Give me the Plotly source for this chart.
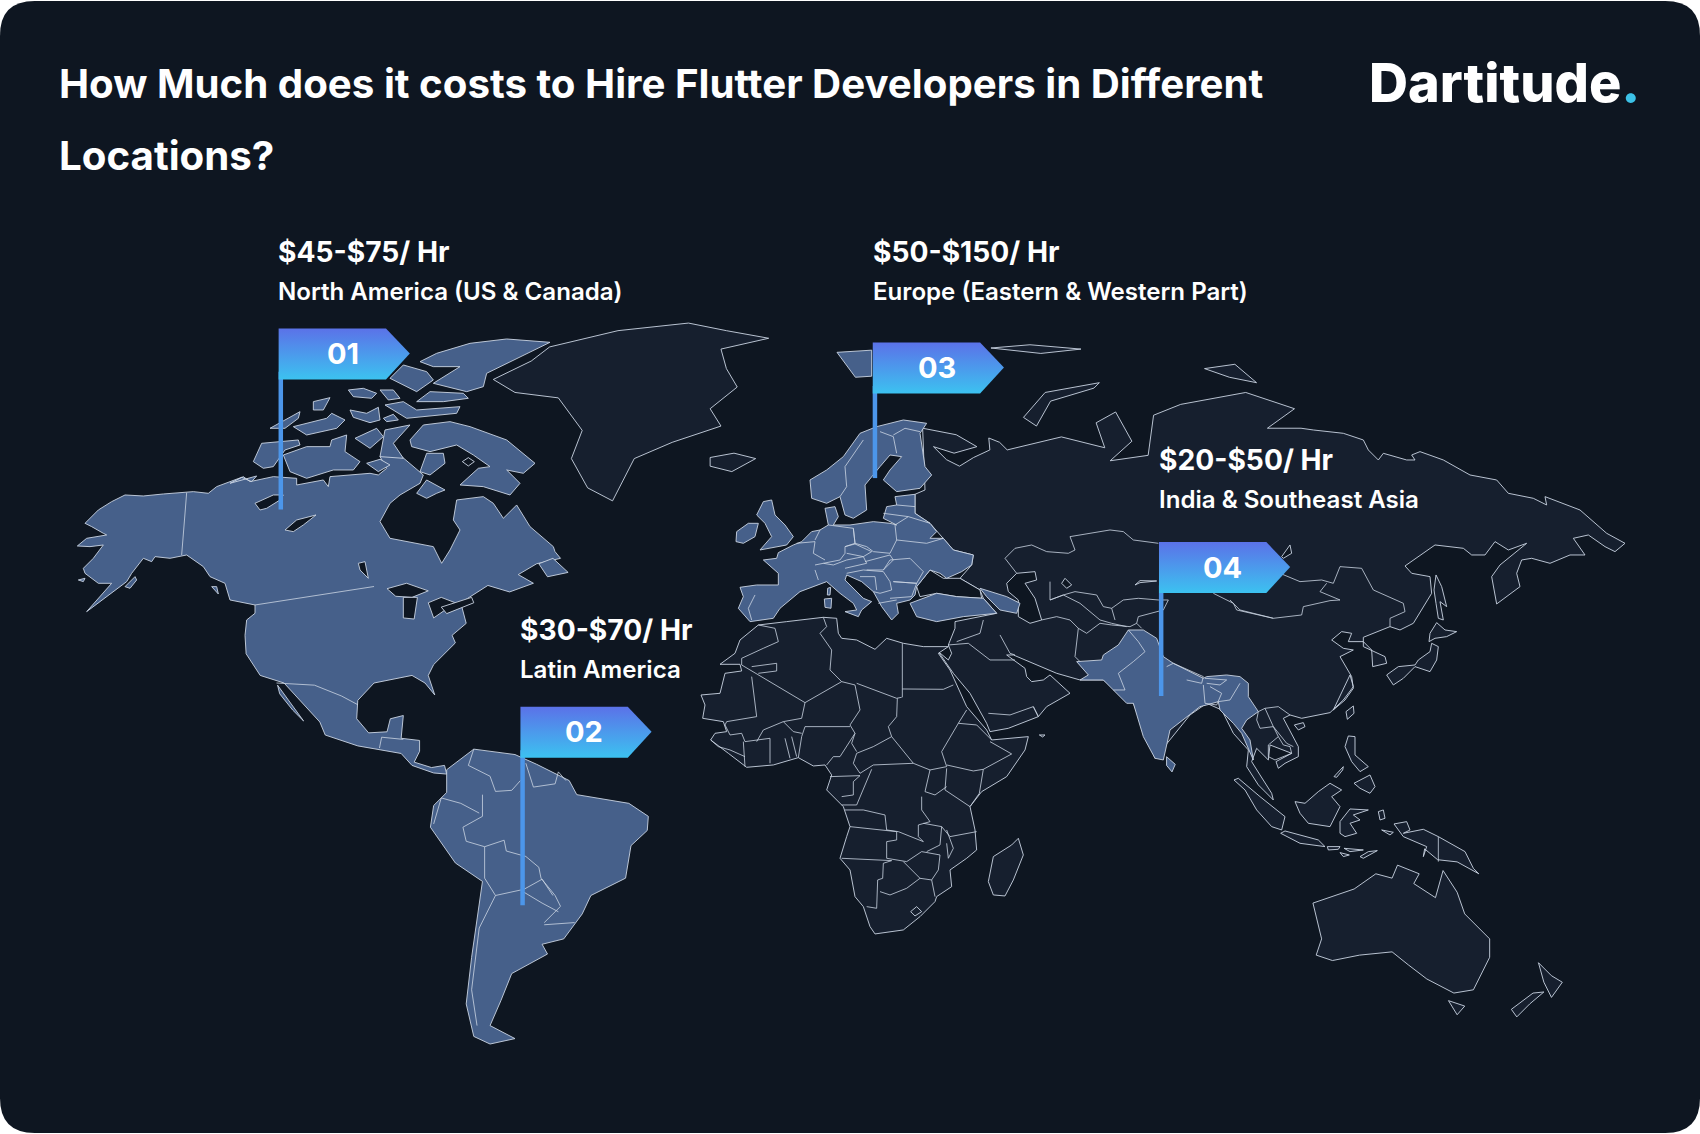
import plotly.graph_objects as go

# map units are the picture's own, 1568 wide and 1045 high.

BG = "#0e1621"
DARK_LAND = "#161f2e"
BLUE_LAND = "#46608a"
EDGE = "#cbd5e3"
S = 1568 / 1700


def crop(x0, y0, pts):
    return [((x0 + x / 3) * S, (y0 + y / 3) * S) for x, y in pts]


def eu(pts):
    return crop(730, 400, pts)


def arctic(pts):
    return crop(230, 330, pts)


def south_asia(pts):
    return crop(1000, 520, pts)


def se_asia(pts):
    return crop(1190, 630, pts)


def africa(pts):
    return crop(690, 610, pts)


def far_east(pts):
    return crop(1230, 430, pts)


def alaska(pts):
    return crop(70, 470, pts)


# Rates
FLAG_IDS = ["01", "02", "03", "04"]
PRICES = ["$45-$75/ Hr", "$30-$70/ Hr", "$50-$150/ Hr", "$20-$50/ Hr"]
REGIONS = ["North America (US & Canada)", "Latin America",
           "Europe (Eastern & Western Part)", "India & Southeast Asia"]
FLAG_X = [257, 480, 805, 1069]
FLAG_TOP = [303, 652, 316, 500]
POLE_END = [470, 835, 441, 642]
PRICE_Y = [232, 581, 232, 424]
REGION_Y = [269, 618, 269, 461]

# North America
NORTH_AMERICA = (
    alaska([(22, 228), (50, 205), (110, 195), (100, 190), (65, 170), (45, 160), (85, 120), (125, 95), (165, 75),
            (220, 78), (280, 72), (350, 68), (370, 65), (415, 70), (440, 50), (515, 22), (545, 35), (560, 18)])
    + arctic([(0, 460), (40, 440), (60, 455), (130, 440), (200, 445), (200, 465), (280, 450), (295, 470), (300, 440),
              (420, 430), (445, 435), (470, 415), (450, 380), (480, 350), (520, 385), (560, 420), (580, 435),
              (570, 460), (510, 495), (480, 520), (450, 575), (480, 625), (610, 650), (635, 700), (660, 660),
              (690, 600), (670, 570), (680, 510), (760, 500), (790, 520), (820, 565), (860, 525), (900, 590),
              (970, 650), (975, 665)])
    + [(517, 515), (495, 520), (478, 530), (492, 538), (470, 546), (450, 540), (425, 556), (430, 575),
       (417, 586), (420, 593), (400, 613), (395, 623), (401, 641), (392, 630), (380, 623), (365, 626),
       (345, 630), (330, 646), (329, 663), (340, 676), (357, 675), (360, 663), (372, 660), (370, 681),
       (387, 683), (387, 693), (382, 703), (398, 708), (410, 706), (412, 714), (400, 713), (380, 706),
       (370, 695), (330, 688), (300, 678), (295, 666), (270, 638), (262, 630), (240, 623), (227, 603),
       (226, 586)]
    + alaska([(530, 450), (555, 430), (555, 405), (480, 390), (465, 340), (420, 320), (400, 290), (350, 255),
              (300, 265), (255, 260), (245, 275), (220, 265), (185, 310), (170, 335), (50, 425), (125, 340),
              (85, 340), (45, 310), (40, 295), (70, 265), (100, 225), (60, 230)])
)
BAJA = [(256, 632), (262, 640), (280, 665), (270, 655), (258, 640)]
KODIAK = alaska([(165, 350), (195, 320), (200, 330), (180, 355)])
NUNIVAK = alaska([(25, 330), (45, 325), (40, 335)])
VANCOUVER = alaska([(425, 350), (440, 350), (445, 372)])
ELLESMERE = arctic([(570, 95), (620, 70), (720, 40), (830, 27), (960, 37), (850, 90), (770, 130), (760, 170),
                    (710, 185), (610, 160), (660, 130), (690, 110), (610, 110)])
AXEL = arctic([(480, 145), (520, 105), (590, 125), (610, 150), (560, 185), (520, 165)])
CORNWALLIS = arctic([(560, 215), (600, 185), (700, 190), (715, 205), (640, 215)])
DEVON = arctic([(465, 225), (520, 215), (560, 240), (690, 230), (680, 250), (530, 265)])
BATHURST = arctic([(355, 180), (400, 175), (440, 190), (425, 205), (370, 200)])
ISLET_A = arctic([(450, 180), (490, 180), (510, 205), (475, 210)])
MELVILLE = arctic([(120, 295), (210, 245), (205, 265), (165, 295)])
MCCLINTOCK = arctic([(190, 290), (290, 265), (305, 250), (345, 270), (320, 295), (230, 315)])
SOMERSET = arctic([(360, 240), (410, 250), (445, 232), (450, 270), (420, 278), (370, 262)])
ISLET_B = arctic([(460, 265), (490, 253), (505, 270), (470, 275)])
ISLET_C = arctic([(250, 215), (300, 203), (280, 240), (250, 240)])
PRINCE_WALES = arctic([(375, 325), (440, 295), (460, 320), (420, 355)])
BOOTHIA = arctic([(465, 300), (540, 285), (490, 340), (520, 385), (450, 380)])
BANKS = arctic([(70, 395), (95, 340), (205, 330), (210, 345), (165, 360), (130, 410), (100, 415)])
VICTORIA = arctic([(160, 375), (230, 350), (300, 350), (305, 330), (350, 315), (345, 365), (390, 395), (370, 420),
                   (310, 420), (230, 445), (180, 425)])
BAFFIN = arctic([(540, 330), (580, 285), (660, 275), (720, 290), (830, 330), (915, 400), (880, 430), (830, 420),
                 (870, 460), (840, 495), (760, 470), (690, 465), (745, 415), (780, 410), (730, 375), (680, 345),
                 (600, 365), (545, 350)])
MELVILLE_PEN = arctic([(590, 370), (640, 370), (645, 400), (600, 435), (570, 425)])
SOUTHAMPTON = arctic([(560, 490), (590, 450), (645, 480), (620, 490), (590, 505)])
KING_WILLIAM = arctic([(410, 400), (450, 388), (480, 405), (445, 425)])
NEWFOUNDLAND = [(497, 520), (510, 515), (524, 528), (505, 532)]

# Latin America
SOUTH_AMERICA = [(437, 691), (475, 696), (495, 705), (525, 720), (532, 733), (580, 741), (598, 753), (597, 766),
                 (582, 780), (577, 810), (545, 826), (537, 843), (520, 866), (500, 871), (505, 880), (472, 898),
                 (462, 923), (452, 946), (475, 958), (452, 963), (437, 956), (430, 926), (435, 883), (445, 813),
                 (420, 796), (397, 763), (400, 743), (412, 731), (412, 710)]

# Europe
EUROPE = eu([(30, 562), (80, 555), (145, 555), (145, 520), (100, 480), (140, 475), (145, 458), (190, 435), (215, 425),
             (245, 395), (270, 390), (295, 375), (285, 325), (315, 320), (325, 350), (310, 375), (360, 375), (430, 365),
             (480, 370), (500, 375), (460, 355), (470, 320), (500, 315), (495, 290), (555, 283), (555, 340), (600, 370),
             (620, 395), (600, 415), (640, 415), (670, 450), (730, 465), (725, 495), (695, 515), (650, 535), (630, 520),
             (600, 510), (560, 560), (555, 585), (540, 600), (500, 610), (505, 640), (485, 660), (455, 620), (430, 575),
             (395, 545), (350, 525), (345, 540), (400, 595), (425, 605), (395, 630), (385, 650), (345, 635), (380, 630),
             (370, 610), (330, 580), (290, 545), (265, 555), (210, 575), (150, 625), (130, 655), (60, 665), (25, 625),
             (40, 590)])
SCANDINAVIA = eu([(240, 240), (290, 210), (340, 170), (390, 100), (440, 80), (520, 60), (590, 70), (570, 100), (585, 200),
                  (605, 225), (570, 265), (500, 275), (460, 240), (480, 210), (515, 170), (480, 165), (450, 200),
                  (420, 235), (405, 255), (410, 330), (370, 355), (345, 345), (330, 290), (290, 310), (245, 295)])
BRITAIN = eu([(100, 305), (125, 300), (135, 345), (165, 375), (190, 410), (170, 435), (90, 450), (125, 410), (105, 370),
              (80, 345)])
IRELAND = eu([(20, 395), (55, 370), (85, 370), (75, 410), (40, 430), (18, 425)])
TURKEY = eu([(540, 610), (620, 580), (680, 590), (760, 595), (800, 640), (700, 650), (620, 665), (560, 650)])
CAUCASUS = eu([(750, 565), (830, 590), (870, 610), (860, 640), (810, 630), (770, 590)])
CORSICA = eu([(293, 565), (302, 562), (300, 585), (292, 585)])
SARDINIA = eu([(283, 597), (305, 595), (303, 625), (285, 622)])
SVALBARD = [(772, 325), (804, 323), (804, 347), (789, 348)]

# South Asia
INDIA_PAK = south_asia([(230, 425), (305, 420), (310, 405), (355, 375), (385, 330), (430, 330), (470, 355), (490, 410),
                        (520, 430), (610, 475), (620, 470), (680, 465), (720, 470), (745, 490), (745, 530), (775, 575),
                        (740, 600), (725, 625), (750, 660), (760, 720), (725, 640), (700, 610), (660, 570), (655, 545),
                        (620, 555), (600, 560), (510, 630), (490, 720), (465, 715), (430, 650), (400, 550), (380, 550),
                        (340, 510), (310, 480), (240, 480), (265, 465)])
SRI_LANKA = [(1076, 698), (1084, 705), (1081, 712), (1076, 706)]

# Everything else
GREENLAND = [(507, 320), (570, 305), (635, 298), (670, 305), (709, 312), (665, 322), (670, 340), (680, 357),
             (655, 377), (665, 393), (620, 408), (585, 423), (565, 462), (542, 450), (527, 423), (537, 397),
             (515, 367), (475, 362), (455, 350), (490, 333)]
ICELAND = [(655, 422), (677, 418), (697, 423), (675, 435), (655, 430)]
AFRICA = africa([(90, 163), (135, 130), (150, 90), (205, 45), (290, 35), (400, 22), (440, 25), (445, 70), (455, 85),
                 (500, 90), (555, 118), (590, 85), (640, 100), (700, 110), (775, 110), (745, 130), (780, 180),
                 (800, 225), (830, 290), (890, 360), (905, 390), (1015, 380), (1005, 420), (950, 500), (875, 545),
                 (840, 590), (855, 660), (860, 720), (830, 745), (780, 780), (785, 830), (740, 860), (735, 875),
                 (690, 920), (640, 960), (555, 972), (540, 950), (520, 890), (495, 860), (480, 780), (450, 745),
                 (470, 680), (480, 650), (460, 590), (410, 540), (425, 495), (405, 465), (370, 468), (325, 443),
                 (250, 465), (170, 472), (115, 430), (62, 390), (75, 370), (110, 365), (100, 335), (38, 325), (45, 285),
                 (33, 255), (90, 250), (105, 190), (155, 183), (150, 163)])
EURASIA = (
    [(851, 395), (882, 401), (901, 412), (880, 418), (861, 412), (873, 424), (885, 430), (898, 422), (913, 415),
     (912, 404), (922, 408), (929, 415), (979, 403), (1019, 413), (1011, 390), (1029, 380), (1044, 407), (1024, 425),
     (1059, 420), (1064, 383), (1089, 373), (1149, 362), (1194, 377), (1169, 395), (1200, 395)]
    + far_east([(250, 0), (340, 10), (400, 30), (415, 60), (445, 90), (460, 70), (530, 90), (555, 90), (545, 75),
                (570, 65), (640, 90), (720, 135), (800, 150), (835, 190), (910, 205), (950, 225), (945, 200),
                (1050, 240), (1130, 310), (1185, 340), (1155, 365), (1125, 350), (1075, 315), (1030, 325), (1065, 375),
                (1020, 375), (960, 400), (905, 385), (875, 390), (860, 430), (870, 470), (800, 522), (785, 440),
                (810, 405), (890, 340), (835, 360), (795, 335), (765, 375), (725, 375), (700, 355), (615, 345),
                (525, 408), (545, 430), (600, 440), (605, 490), (550, 580), (510, 600), (480, 590), (400, 622),
                (400, 650), (465, 680), (470, 700), (428, 710), (425, 660), (400, 635), (355, 635), (365, 610),
                (335, 605), (305, 630), (340, 655), (370, 660), (330, 680), (365, 740), (370, 775), (345, 810),
                (310, 840)])
    + se_asia([(480, 135), (490, 170), (460, 210), (420, 248), (335, 265), (300, 255), (280, 265), (325, 350), (325, 380),
               (285, 400), (265, 415), (258, 395), (305, 370), (240, 345), (235, 390), (200, 355), (185, 395), (210, 435),
               (245, 490), (250, 510), (205, 465), (170, 410), (175, 360), (130, 310), (95, 240), (50, 220), (0, 255)])
    + south_asia([(465, 715), (400, 550), (310, 480), (240, 480), (170, 460), (100, 430), (40, 405), (20, 405), (40, 420),
                  (75, 445), (80, 470), (95, 485), (130, 480), (150, 465), (210, 520), (165, 545), (140, 560), (115, 590),
                  (25, 625)])
    + africa([(900, 365), (890, 340), (840, 250), (790, 190), (745, 125), (775, 150), (785, 130), (775, 105), (795, 55),
              (795, 35)])
    + eu([(800, 640), (760, 595), (750, 570), (690, 535), (725, 495), (730, 465), (670, 450), (640, 415), (620, 395),
          (600, 370), (555, 340), (555, 283), (585, 270)])
)
BLACK_SEA = eu([(560, 560), (600, 510), (640, 535), (690, 535), (750, 570), (755, 595), (680, 590), (620, 580), (570, 590)])
AZOV = eu([(650, 530), (700, 505), (655, 520)])
CASPIAN = south_asia([(20, 190), (50, 160), (105, 155), (110, 180), (75, 190), (105, 235), (125, 300), (90, 310),
                      (55, 290), (55, 240), (25, 215)])
ARAL = south_asia([(185, 190), (195, 175), (215, 195), (200, 205)])
BALKHASH = south_asia([(405, 195), (420, 182), (470, 183), (420, 188)])
BAIKAL = south_asia([(845, 110), (870, 75), (875, 100), (850, 115)])
SUPERIOR = [(357, 543), (375, 538), (395, 545), (380, 551), (365, 550)]
MICHIGAN = [(372, 551), (385, 551), (382, 571), (372, 570)]
HURON = [(395, 556), (407, 551), (420, 556), (400, 570)]
ERIE = [(407, 560), (435, 551), (437, 556), (412, 566)]
GREAT_BEAR = alaska([(555, 100), (610, 75), (640, 75), (630, 90), (590, 115), (570, 120)])
GREAT_SLAVE = alaska([(645, 180), (680, 150), (738, 135), (700, 165), (670, 185)])
WINNIPEG = alaska([(865, 280), (885, 275), (895, 325), (870, 300)])
PRINCE_CHARLES = arctic([(697, 395), (715, 383), (733, 395), (715, 408)])
NOVAYA = [(944, 385), (964, 362), (1014, 353), (1009, 358), (969, 370), (956, 393)]
SEVERNAYA = [(1111, 340), (1134, 348), (1159, 353), (1139, 336)]
FRANZ_JOSEF = [(914, 321), (950, 318), (997, 322), (960, 326)]
HONSHU = far_east([(605, 640), (625, 650), (620, 690), (600, 725), (555, 710), (520, 745), (490, 765), (480, 750),
                   (470, 735), (505, 710), (555, 705), (565, 690), (600, 665)])
HOKKAIDO = far_east([(620, 578), (645, 600), (680, 605), (650, 620), (615, 625), (597, 635), (600, 610)])
SAKHALIN = far_east([(618, 435), (635, 470), (650, 530), (630, 515), (640, 570), (625, 565), (618, 520), (612, 480)])
TAIWAN = se_asia([(468, 245), (490, 228), (492, 250), (472, 268)])
HAINAN = se_asia([(313, 285), (340, 278), (345, 290), (325, 300)])
LUZON = se_asia([(465, 350), (475, 318), (495, 320), (495, 375), (535, 410), (510, 425), (485, 395)])
MINDANAO = se_asia([(492, 460), (540, 435), (555, 470), (540, 490), (510, 475)])
PALAWAN = se_asia([(432, 440), (460, 410), (458, 420), (440, 442)])
BORNEO = se_asia([(315, 515), (345, 520), (385, 485), (420, 460), (455, 480), (425, 500), (450, 530), (420, 590),
                  (355, 580), (330, 550)])
SULAWESI = se_asia([(450, 610), (450, 575), (480, 537), (535, 540), (490, 555), (510, 570), (480, 580), (500, 610),
                    (465, 620)])
SUMATRA = se_asia([(132, 450), (145, 445), (210, 500), (285, 560), (275, 600), (245, 590), (200, 540), (165, 480)])
JAVA = se_asia([(272, 610), (285, 603), (385, 630), (405, 650), (330, 640)])
BALI = se_asia([(412, 650), (450, 650), (445, 658), (415, 660)])
SUMBAWA = se_asia([(462, 655), (520, 660), (480, 665)])
SUMBA = se_asia([(450, 668), (478, 675), (460, 680)])
TIMOR = se_asia([(510, 680), (535, 665), (562, 662), (520, 685)])
HALMAHERA = se_asia([(565, 545), (580, 540), (585, 565), (570, 570)])
CERAM = se_asia([(575, 600), (610, 607), (600, 615)])
NEW_GUINEA = (se_asia([(612, 582), (650, 575), (660, 600), (640, 610), (700, 598), (745, 620), (825, 665), (850, 715)])
              + [(1364, 806), (1344, 795), (1326, 793), (1314, 783)]
              + se_asia([(700, 680), (710, 650), (640, 620)]))
AUSTRALIA = [(1211, 833), (1249, 820), (1269, 806), (1284, 810), (1289, 798), (1309, 806), (1304, 815), (1324, 828),
             (1331, 803), (1344, 823), (1351, 843), (1374, 866), (1374, 883), (1359, 913), (1341, 916), (1316, 903),
             (1299, 890), (1284, 878), (1254, 881), (1229, 886), (1214, 881), (1219, 866)]
TASMANIA = [(1336, 923), (1351, 928), (1344, 936)]
NZ_NORTH = [(1419, 888), (1431, 900), (1441, 906), (1431, 920), (1424, 906)]
NZ_SOUTH = [(1424, 915), (1411, 926), (1399, 938), (1394, 931), (1414, 916)]
MADAGASCAR = africa([(985, 685), (1000, 735), (970, 810), (945, 858), (910, 855), (895, 815), (910, 740), (965, 705)])
LESOTHO = africa([(662, 905), (680, 890), (695, 905), (675, 918)])
SOCOTRA = africa([(1048, 375), (1065, 375), (1058, 381)])

DARK_SHAPES = [GREENLAND, ICELAND, EURASIA, AFRICA, NOVAYA, SEVERNAYA, FRANZ_JOSEF, HONSHU, HOKKAIDO, SAKHALIN, TAIWAN,
               HAINAN, LUZON, MINDANAO, PALAWAN, BORNEO, SULAWESI, SUMATRA, JAVA, BALI, SUMBAWA, SUMBA, TIMOR, HALMAHERA,
               CERAM, NEW_GUINEA, AUSTRALIA, TASMANIA, NZ_NORTH, NZ_SOUTH, MADAGASCAR, LESOTHO, SOCOTRA]
SEA_SHAPES = [BLACK_SEA, AZOV, CASPIAN, ARAL, BALKHASH, BAIKAL]
BLUE_SHAPES = [NORTH_AMERICA, BAJA, KODIAK, NUNIVAK, VANCOUVER, ELLESMERE, AXEL, CORNWALLIS, DEVON, BATHURST, ISLET_A,
               MELVILLE, MCCLINTOCK, SOMERSET, ISLET_B, ISLET_C, PRINCE_WALES, BOOTHIA, BANKS, VICTORIA, BAFFIN,
               MELVILLE_PEN, SOUTHAMPTON, KING_WILLIAM, NEWFOUNDLAND, SOUTH_AMERICA, EUROPE, SCANDINAVIA, BRITAIN, IRELAND,
               TURKEY, CAUCASUS, CORSICA, SARDINIA, SVALBARD, INDIA_PAK, SRI_LANKA]
LAKE_SHAPES = [SUPERIOR, MICHIGAN, HURON, ERIE, GREAT_BEAR, GREAT_SLAVE, WINNIPEG, PRINCE_CHARLES]

# Borders
BORDERS = [
    alaska([(350, 68), (335, 255)]),
    alaska([(555, 405), (900, 350)]) + [(345, 541)],
    [(255, 630), (290, 632), (315, 642), (330, 650)],
    [(350, 690), (352, 680), (372, 682)],
    # South America
    [(437, 691), (432, 706), (452, 716), (457, 730), (472, 729), (480, 720)],
    [(485, 704), (492, 726), (512, 723), (515, 712), (522, 720)],
    [(445, 733), (445, 753), (427, 763), (430, 776), (447, 781), (465, 775), (467, 785), (485, 790), (497, 800),
     (499, 810), (512, 826), (517, 836), (502, 851)],
    [(447, 781), (447, 810), (457, 826), (480, 821), (500, 833), (515, 841)],
    [(457, 826), (442, 856), (435, 913), (440, 946)],
    [(407, 736), (425, 741), (442, 750)], [(407, 736), (400, 760)], [(502, 853), (530, 851)],
    [(482, 821), (500, 811), (510, 826)],
    # Europe
    eu([(75, 585), (55, 625), (65, 660)]),
    eu([(200, 430), (255, 425), (250, 460), (285, 480)]),
    eu([(255, 420), (270, 390)]),
    eu([(295, 375), (370, 385), (375, 430), (345, 440), (345, 460), (330, 480), (280, 490)]),
    eu([(255, 495), (280, 490), (310, 495)]),
    eu([(255, 510), (265, 540)]),
    eu([(370, 385), (375, 430), (410, 440), (430, 455), (480, 460), (500, 420), (495, 375)]),
    eu([(345, 440), (375, 432), (425, 455), (400, 470), (350, 460)]),
    eu([(310, 495), (350, 480), (400, 470), (410, 490), (345, 505)]),
    eu([(405, 485), (480, 465), (490, 480), (460, 510), (410, 510)]),
    eu([(460, 510), (480, 480), (540, 475), (580, 515), (560, 550), (490, 545)]),
    eu([(500, 420), (590, 430), (640, 415)]),
    eu([(495, 375), (535, 350), (600, 370)]),
    eu([(460, 340), (535, 350)]), eu([(500, 315), (555, 320)]),
    eu([(350, 520), (400, 510), (460, 515), (480, 545), (485, 570), (450, 580), (430, 575)]),
    eu([(390, 530), (435, 530), (440, 570)]),
    eu([(490, 545), (560, 550), (545, 590), (480, 595)]),
    eu([(445, 610), (500, 600)]),
    eu([(400, 120), (345, 200), (350, 260), (330, 290)]),
    eu([(450, 95), (490, 110), (500, 160)]),
    eu([(490, 105), (525, 85), (570, 95)]),
    # Africa
    africa([(155, 165), (330, 270), (345, 278)]),
    africa([(185, 200), (200, 320), (110, 335)]),
    africa([(185, 170), (260, 160), (260, 183), (205, 190)]),
    africa([(155, 165), (155, 145), (220, 115), (265, 95), (255, 55), (205, 45)]),
    africa([(400, 22), (410, 50), (390, 70), (425, 120), (420, 180), (455, 215)]),
    africa([(345, 278), (410, 240), (455, 215), (495, 225)]),
    africa([(495, 225), (510, 300), (480, 345), (495, 370)]),
    africa([(500, 220), (620, 265), (635, 262)]),
    africa([(637, 100), (637, 262)]),
    africa([(637, 237), (760, 238), (790, 225)]),
    africa([(622, 265), (620, 320), (595, 350), (605, 380)]),
    africa([(605, 380), (550, 410), (500, 430), (490, 460), (510, 490)]),
    africa([(495, 370), (485, 400), (500, 425)]),
    africa([(605, 380), (670, 460), (550, 465), (510, 490)]),
    africa([(670, 460), (720, 480), (770, 470), (755, 425), (805, 340), (830, 300)]),
    africa([(805, 340), (860, 345), (905, 390)]),
    africa([(770, 465), (850, 483), (880, 478), (965, 432), (900, 395)]),
    africa([(880, 478), (868, 550), (840, 590), (765, 540), (770, 475)]),
    africa([(720, 480), (705, 545), (735, 555), (770, 530)]),
    africa([(695, 560), (695, 600), (720, 635), (685, 645), (685, 680), (700, 695), (625, 665), (590, 660), (585, 615),
            (520, 600), (465, 600)]),
    africa([(545, 478), (510, 560), (500, 585), (455, 585)]),
    africa([(420, 500), (510, 497), (490, 515), (490, 555), (455, 560)]),
    africa([(410, 465), (430, 440), (450, 440), (495, 370)]),
    africa([(335, 380), (345, 350), (480, 350)]),
    africa([(335, 380), (325, 443)]),
    africa([(110, 335), (105, 345), (120, 375), (155, 370), (165, 395)]),
    africa([(200, 395), (220, 360), (280, 335), (335, 325), (345, 278)]),
    africa([(280, 335), (310, 365), (335, 370)]),
    africa([(165, 395), (240, 385), (240, 460)]),
    africa([(285, 385), (300, 445)]), africa([(305, 380), (320, 440)]),
    africa([(62, 390), (85, 410), (120, 420), (165, 440)]), africa([(160, 395), (165, 470)]),
    africa([(480, 650), (620, 665), (620, 690), (590, 695), (590, 745)]),
    africa([(455, 745), (605, 752), (580, 760), (578, 805), (563, 810), (560, 895), (530, 890)]),
    africa([(590, 745), (650, 755), (695, 725), (750, 735)]),
    africa([(700, 640), (755, 650), (750, 705), (710, 725)]),
    africa([(755, 650), (780, 680), (860, 665)]),
    africa([(750, 735), (745, 780), (725, 810)]),
    africa([(640, 755), (690, 805), (725, 810)]),
    africa([(690, 805), (650, 835), (600, 855), (570, 845)]),
    africa([(725, 810), (735, 860)]),
    africa([(770, 660), (790, 715), (775, 745), (770, 700)]),
    # Asia
    south_asia([(15, 115), (45, 85), (95, 75), (140, 95), (205, 100), (225, 90), (210, 50), (330, 30), (370, 35), (400, 60),
                (475, 70)]),
    south_asia([(15, 115), (50, 160)]),
    south_asia([(150, 185), (150, 240), (190, 225), (225, 215), (290, 225), (310, 260), (335, 265), (370, 240), (415, 235),
                (475, 240)]),
    south_asia([(150, 240), (190, 225), (240, 250), (300, 300), (335, 310), (380, 320)]),
    south_asia([(125, 300), (170, 290), (210, 300), (235, 325), (225, 410), (240, 425)]),
    south_asia([(235, 325), (260, 340), (300, 310), (335, 315), (390, 320), (410, 310), (425, 325)]),
    south_asia([(0, 345), (30, 400), (45, 405)]),
    south_asia([(100, 560), (115, 590)]),
    south_asia([(475, 240), (505, 240), (490, 270), (415, 290), (410, 310)]),
    south_asia([(345, 300), (335, 265)]),
    south_asia([(500, 440), (520, 430), (610, 470), (605, 490), (560, 480)]),
    south_asia([(615, 475), (680, 480), (660, 495), (620, 490)]),
    south_asia([(385, 330), (415, 365), (435, 395), (400, 425), (355, 460), (375, 510), (340, 510)]),
    south_asia([(610, 495), (615, 550), (650, 555), (665, 520), (630, 500)]),
    south_asia([(720, 490), (690, 540), (655, 545)]),
    africa([(775, 105), (835, 100), (900, 150), (975, 150)]),
    africa([(800, 95), (870, 70), (880, 30)]),
    africa([(895, 310), (960, 315), (1030, 290)]),
    africa([(1030, 290), (1045, 320)]),
    far_east([(150, 430), (210, 455), (275, 450), (310, 460), (330, 410), (395, 415), (430, 480), (520, 520), (525, 545),
              (480, 565), (480, 590)]),
    far_east([(0, 510), (30, 540), (130, 565), (215, 555), (220, 530), (300, 512), (330, 510), (270, 485), (290, 460)]),
    south_asia([(640, 220), (700, 250), (710, 270), (820, 295)]),
    se_asia([(205, 245), (225, 235), (265, 230), (300, 255)]),
    se_asia([(205, 245), (200, 270), (210, 295), (250, 290), (265, 320), (280, 345), (300, 350), (305, 370)]),
    se_asia([(265, 320), (235, 345), (235, 380), (255, 390), (305, 370)]),
    se_asia([(225, 235), (250, 290), (290, 340), (310, 350)]),
    se_asia([(745, 620), (745, 695)]),
]

fig = go.Figure()


def add_outline(points, fill):
    fig.add_trace(go.Scatter(x=[p[0] for p in points] + [points[0][0]],
                             y=[p[1] for p in points] + [points[0][1]],
                             mode="lines", fill="toself", fillcolor=fill,
                             line=dict(color=EDGE, width=0.9), hoverinfo="skip", showlegend=False))


for shape in DARK_SHAPES:
    add_outline(shape, DARK_LAND)
for shape in SEA_SHAPES:
    add_outline(shape, BG)
for shape in BLUE_SHAPES:
    add_outline(shape, BLUE_LAND)
for shape in LAKE_SHAPES:
    add_outline(shape, BG)

for border in BORDERS:
    fig.add_trace(go.Scatter(x=[p[0] for p in border], y=[p[1] for p in border], mode="lines",
                             line=dict(color=EDGE, width=0.8), hoverinfo="skip", showlegend=False))

# Flags
for i in range(len(FLAG_IDS)):
    x0, top = FLAG_X[i], FLAG_TOP[i]
    fig.add_trace(go.Scatter(x=[x0 + 2, x0 + 2], y=[top + 40, POLE_END[i]], mode="lines",
                             line=dict(color="#4c96ea", width=4.5), hoverinfo="skip", showlegend=False))
    fig.add_trace(go.Scatter(x=[x0, x0 + 99, x0 + 121, x0 + 99, x0, x0],
                             y=[top, top, top + 23, top + 47, top + 47, top],
                             mode="lines", fill="toself", line=dict(width=0),
                             fillgradient=dict(type="vertical", colorscale=[[0, "#3cc2f0"], [1, "#5b72e8"]]),
                             hoverinfo="skip", showlegend=False))
    fig.add_annotation(x=x0 + 59, y=top + 23, text=FLAG_IDS[i], showarrow=False,
                       font=dict(family="Inter", size=29, color="white", weight=700))
    fig.add_annotation(x=x0 - 2, y=PRICE_Y[i], text=PRICES[i], showarrow=False, xanchor="left",
                       font=dict(family="Inter", size=28.2, color="white", weight=700))
    fig.add_annotation(x=x0 - 2, y=REGION_Y[i], text=REGIONS[i], showarrow=False, xanchor="left",
                       font=dict(family="Inter", size=24.1, color="white", weight=600))

# Title and logo
fig.add_annotation(x=53, y=77, text="How Much does it costs to Hire Flutter Developers in Different",
                   showarrow=False, xanchor="left", font=dict(family="Inter", size=40.25, color="white", weight=700))
fig.add_annotation(x=53, y=143.5, text="Locations?", showarrow=False, xanchor="left",
                   font=dict(family="Inter", size=40.25, color="white", weight=700))
fig.add_annotation(x=1261, y=76, text='Dartitude<span style="color:#3cc2e8">.</span>', showarrow=False,
                   xanchor="left", font=dict(family="Inter", size=54, color="white", weight=800))

fig.update_layout(
    width=1700, height=1134, margin=dict(l=0, r=0, t=0, b=0),
    paper_bgcolor="white", plot_bgcolor="white", showlegend=False,
    xaxis=dict(range=[0, 1568], visible=False, fixedrange=True),
    yaxis=dict(range=[1046, 0], visible=False, fixedrange=True),
    shapes=[dict(type="path", layer="below", line=dict(width=0), fillcolor=BG,
                 path="M 32 1 L 1536 1 Q 1568 1 1568 33 L 1568 1013 Q 1568 1045 1536 1045 "
                      "L 32 1045 Q 0 1045 0 1013 L 0 33 Q 0 1 32 1 Z")],
)

fig.write_html("out.html", config=dict(displayModeBar=False),
               post_script="document.body.style.margin='0';")
